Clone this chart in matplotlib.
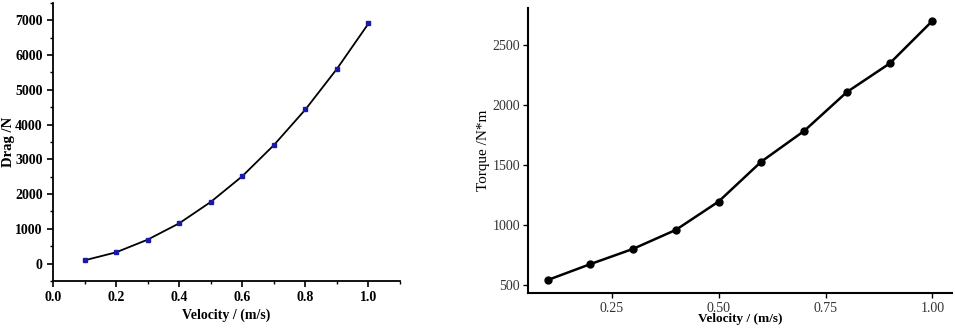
import numpy as np
import matplotlib.pyplot as plt
from matplotlib.ticker import MultipleLocator

# Data
velocity = [0.1, 0.2, 0.3, 0.4, 0.5, 0.6, 0.7, 0.8, 0.9, 1.0]
drag = [95, 325, 690, 1160, 1775, 2515, 3410, 4435, 5605, 6910]
torque = [542, 675, 802, 960, 1196, 1529, 1784, 2108, 2346, 2701]

left_xticks = [0.0, 0.2, 0.4, 0.6, 0.8, 1.0]
left_yticks = [0, 1000, 2000, 3000, 4000, 5000, 6000, 7000]
right_xticks = [0.25, 0.50, 0.75, 1.00]
right_yticks = [500, 1000, 1500, 2000, 2500]

plt.rcParams['font.family'] = ['Liberation Serif', 'DejaVu Serif']

fig = plt.figure(figsize=(9.55, 3.28), dpi=100)

# Left: drag vs velocity
ax1 = fig.add_axes([0.0555, 0.1433, 0.3634, 0.8476])
ax1.plot(velocity, drag, color='black', lw=1.3, marker='s', ms=3.5,
         mfc='#1a1aa8', mec='#1a1aa8')
ax1.set_xlim(0, 1.1)
ax1.set_ylim(-500, 7500)
ax1.set_xticks(left_xticks)
ax1.set_xticklabels(['%.1f' % t for t in left_xticks])
ax1.set_yticks(left_yticks)
ax1.xaxis.set_minor_locator(MultipleLocator(0.1))
ax1.yaxis.set_minor_locator(MultipleLocator(500))
ax1.tick_params(which='major', direction='out', length=4, width=1.2, labelsize=10)
ax1.tick_params(which='minor', direction='out', length=2.5, width=1.0)
for lab in ax1.get_xticklabels() + ax1.get_yticklabels():
    lab.set_fontweight('bold')
ax1.set_xlabel('Velocity / (m/s)', fontsize=10, fontweight='bold', labelpad=3)
ax1.set_ylabel('Drag /N', fontsize=10.5, fontweight='bold', labelpad=0)
for s in ['top', 'right']:
    ax1.spines[s].set_visible(False)
for s in ['left', 'bottom']:
    ax1.spines[s].set_linewidth(1.3)

# Right: torque vs velocity
ax2 = fig.add_axes([0.5532, 0.1058, 0.4433, 0.8698])
ax2.plot(velocity, torque, color='black', lw=1.8, marker='o', ms=5)
ax2.set_xlim(0.055, 1.045)
ax2.set_ylim(432, 2808)
ax2.set_xticks(right_xticks)
ax2.set_xticklabels(['%.2f' % t for t in right_xticks])
ax2.set_yticks(right_yticks)
ax2.tick_params(direction='out', length=3.5, width=1.0, labelsize=10,
                labelcolor='#333333', pad=2.5)
ax2.set_xlabel('Velocity / (m/s)', fontsize=9.5, fontweight='bold', labelpad=-1)
ax2.set_ylabel('Torque /N*m', fontsize=11, labelpad=2)
for s in ['top', 'right']:
    ax2.spines[s].set_visible(False)
for s in ['left', 'bottom']:
    ax2.spines[s].set_linewidth(1.5)

fig.savefig('out.png', dpi=100)
